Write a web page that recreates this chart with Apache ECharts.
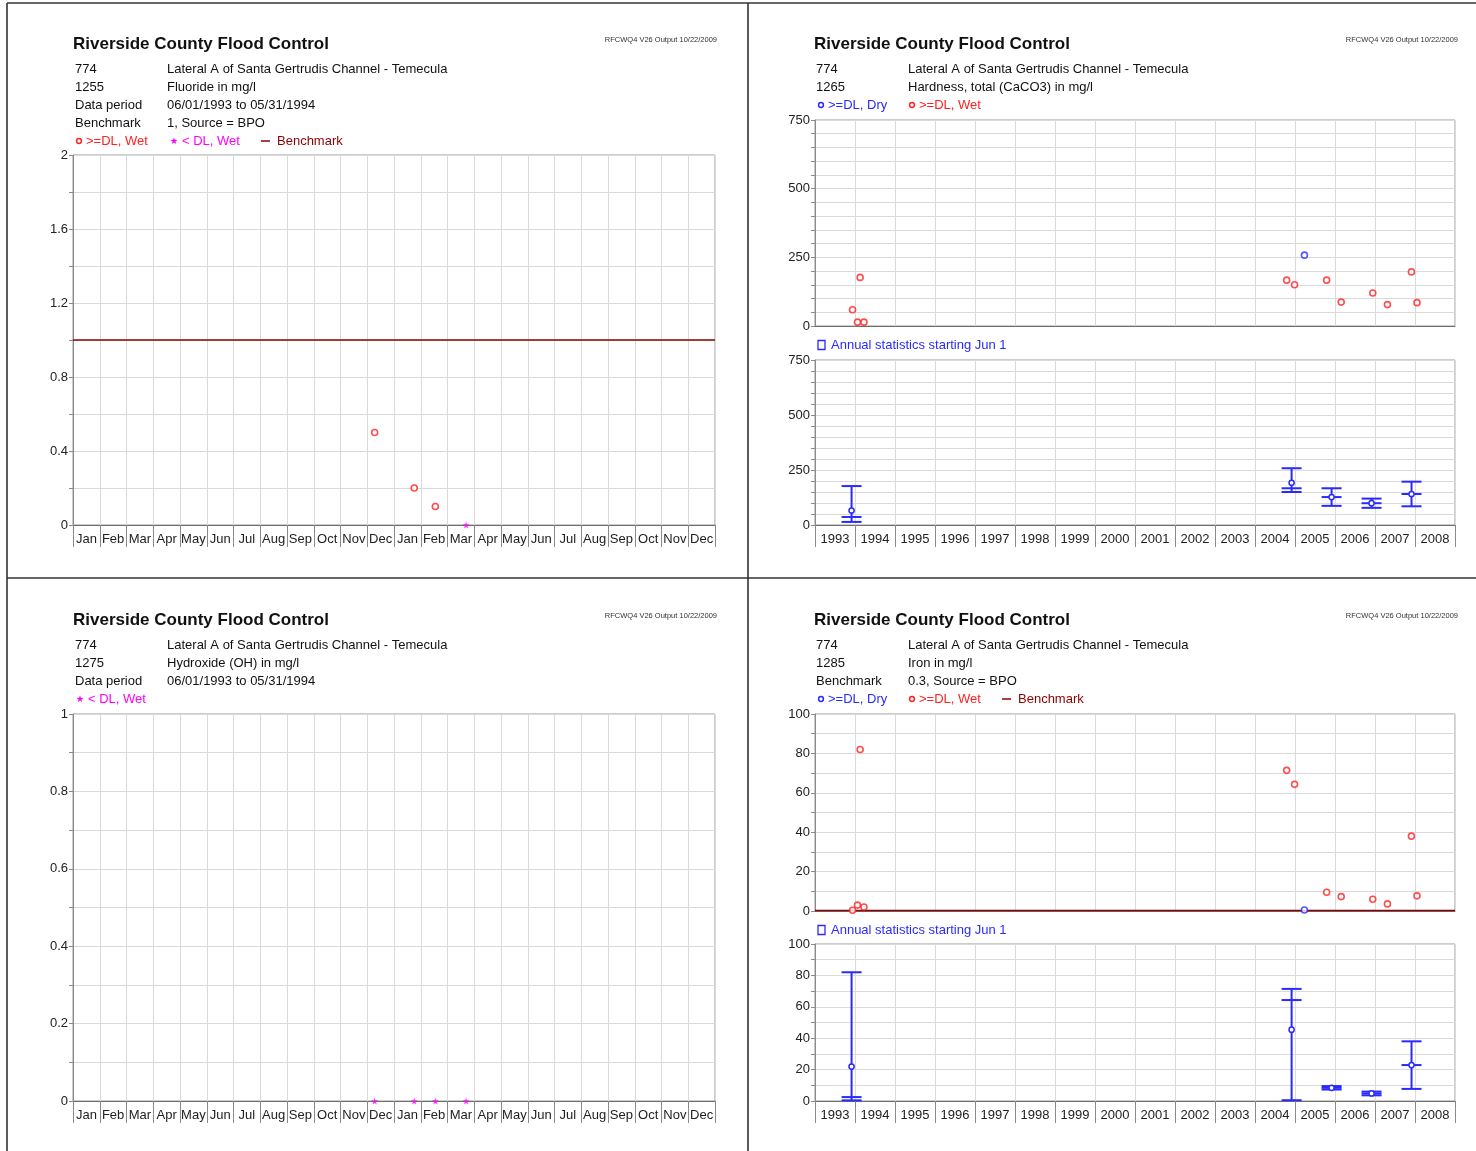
<!DOCTYPE html>
<html><head><meta charset="utf-8">
<script src="https://cdn.jsdelivr.net/npm/echarts@6/dist/echarts.min.js"></script>
<style>html,body{margin:0;padding:0;background:#fff}#c{width:1476px;height:1151px}</style>
</head><body><div id="c"></div>
<script>
// ---------- tick labels ----------
const monthNames = ['Jan','Feb','Mar','Apr','May','Jun','Jul','Aug','Sep','Oct','Nov','Dec'];
const monthLabels = monthNames.concat(monthNames);           // 1993 + 1994
const yearLabels = ['1993','1994','1995','1996','1997','1998','1999','2000','2001','2002','2003','2004','2005','2006','2007','2008'];

// ---------- Panel 1 : Fluoride (1255) ----------
const fluorideWetDates = ['1993-12-10','1994-01-24','1994-02-17'];
const fluorideWetValues = [0.5, 0.2, 0.1];
const fluorideNdDates = ['1994-03-24'];
const fluorideNdValues = [0];
const fluorideBenchmark = 1;

// ---------- Panel 3 : Hydroxide (1275) ----------
const hydroxideNdDates = ['1993-12-10','1994-01-24','1994-02-17','1994-03-24'];
const hydroxideNdValues = [0, 0, 0, 0];

// ---------- Panels 2 & 4 : sampling events ----------
const wetDates = ['1993-12-10','1994-01-24','1994-02-17','1994-03-24','2004-10-17','2004-12-28','2005-10-17','2006-02-27','2006-12-12','2007-04-25','2007-11-30','2008-01-20'];
const dryDates = ['2005-03-28'];

// Hardness (1265)
const hardnessWet = [59, 14, 177, 14, 167, 150, 167, 87, 120, 78, 197, 85];
const hardnessDry = [258];
// Iron (1285)
const ironWet = [0.4, 3, 82, 2, 71.4, 64.3, 9.5, 7.3, 6, 3.6, 38, 7.7];
const ironDry = [0.5];
const ironBenchmark = 0.3;

// Annual statistics (water year starting Jun 1, drawn mid-year)
const statDates = ['1993-12-01','2004-12-01','2005-12-01','2006-12-01','2007-12-01'];
const hardnessStatMin = [14, 150, 87, 78, 85];
const hardnessStatMax = [177, 258, 167, 120, 197];
const hardnessStatMedian = [36.5, 167, 127, 99, 141];
const hardnessStatMean = [66, 192, 127, 99, 141];
const ironStatMin = [0.4, 0.5, 7.3, 3.6, 7.7];
const ironStatMax = [82, 71.4, 9.5, 6, 38];
const ironStatMedian = [2.5, 64.3, 8.4, 4.8, 22.9];
const ironStatMean = [21.9, 45.4, 8.4, 4.8, 22.9];

// ---------- styling ----------
const FF = '"Liberation Sans", Arial, sans-serif';
const RED = '#ff2020', BLUE = '#2a2aff', MAG = '#ff00ff', DKRED = '#8b0000';
const STAR = 'path://M50 0L61 35L98 35L68 57L79 91L50 70L21 91L32 57L2 35L39 35Z';

const grids = [
  {left: 73,  top: 155, width: 642, height: 370},  // 0 fluoride
  {left: 815, top: 120, width: 640, height: 206},  // 1 hardness samples
  {left: 815, top: 360, width: 640, height: 165},  // 2 hardness stats
  {left: 73,  top: 714, width: 642, height: 387},  // 3 hydroxide
  {left: 815, top: 714, width: 640, height: 197},  // 4 iron samples
  {left: 815, top: 944, width: 640, height: 157}   // 5 iron stats
].map(g => Object.assign(g, {show: true, borderColor: '#9a9a9a', borderWidth: 1, backgroundColor: 'transparent'}));

function catAxis(gi, labels, showLabels) {
  return {type: 'category', gridIndex: gi, data: labels, boundaryGap: true, position: 'bottom',
    axisLine: {show: true, lineStyle: {color: '#6f6f6f', width: 1}},
    axisTick: {show: showLabels, length: 22, interval: 0, lineStyle: {color: '#8a8a8a'}},
    axisLabel: {show: showLabels, interval: 0, fontSize: 13, color: '#222', margin: 8, fontFamily: FF},
    splitLine: {show: true, interval: 0, lineStyle: {color: '#dadada'}}};
}
function timeAxis(gi, min, max) {
  return {type: 'time', gridIndex: gi, min: min, max: max, show: false};
}
function valAxis(gi, max, interval, labelEvery) {
  return {type: 'value', gridIndex: gi, min: 0, max: max, interval: interval,
    axisLine: {show: true, lineStyle: {color: '#8a8a8a'}},
    axisTick: {show: true, length: 4, lineStyle: {color: '#8a8a8a'}},
    splitLine: {show: true, lineStyle: {color: '#dadada'}},
    axisLabel: {fontSize: 13, color: '#222', margin: 5, fontFamily: FF,
      formatter: v => {
        const k = v / labelEvery;
        return Math.abs(k - Math.round(k)) < 1e-6 ? String(Math.round(v * 100) / 100) : '';
      }}};
}

const xAxes = [
  catAxis(0, monthLabels, true), timeAxis(0, '1993-01-01', '1995-01-01'),
  catAxis(1, yearLabels, false), timeAxis(1, '1993-01-01', '2009-01-01'),
  catAxis(2, yearLabels, true),  timeAxis(2, '1993-01-01', '2009-01-01'),
  catAxis(3, monthLabels, true), timeAxis(3, '1993-01-01', '1995-01-01'),
  catAxis(4, yearLabels, false), timeAxis(4, '1993-01-01', '2009-01-01'),
  catAxis(5, yearLabels, true),  timeAxis(5, '1993-01-01', '2009-01-01')
];
const yAxes = [
  valAxis(0, 2, 0.2, 0.4),
  valAxis(1, 750, 50, 250),
  valAxis(2, 750, 50, 250),
  valAxis(3, 1, 0.1, 0.2),
  valAxis(4, 100, 10, 20),
  valAxis(5, 100, 10, 20)
];

function pts(dates, vals) { return dates.map((d, i) => [d, vals[i]]); }
function ring(gi, dates, vals, color) {
  return {type: 'scatter', xAxisIndex: gi * 2 + 1, yAxisIndex: gi, data: pts(dates, vals),
    symbol: 'circle', symbolSize: 6, clip: false, silent: true, z: 6,
    itemStyle: {color: '#fff', borderColor: color, borderWidth: 1.6}};
}
function star(gi, dates, vals) {
  return {type: 'scatter', xAxisIndex: gi * 2 + 1, yAxisIndex: gi, data: pts(dates, vals),
    symbol: STAR, symbolSize: 7, clip: false, silent: true, z: 6, itemStyle: {color: MAG}};
}
function bench(gi, value, start, end) {
  return {type: 'line', xAxisIndex: gi * 2 + 1, yAxisIndex: gi, data: [[start, value], [end, value]],
    symbol: 'none', silent: true, z: 4, lineStyle: {color: DKRED, width: 1.5}};
}
function stats(gi, dates, mins, maxs, meds, means) {
  return {type: 'custom', xAxisIndex: gi * 2 + 1, yAxisIndex: gi, clip: false, silent: true, z: 6,
    data: dates.map((d, i) => [d, mins[i], maxs[i], meds[i], means[i]]),
    encode: {x: 0, y: [1, 2]},
    renderItem: function (params, api) {
      const t = api.value(0);
      const x = api.coord([t, api.value(1)])[0];
      const yMin = api.coord([t, api.value(1)])[1];
      const yMax = api.coord([t, api.value(2)])[1];
      const yMed = api.coord([t, api.value(3)])[1];
      const yMean = api.coord([t, api.value(4)])[1];
      const hw = 10;
      const st = {stroke: BLUE, lineWidth: 2, fill: null};
      return {type: 'group', children: [
        {type: 'line', shape: {x1: x, y1: yMin, x2: x, y2: yMax}, style: st},
        {type: 'line', shape: {x1: x - hw, y1: yMax, x2: x + hw, y2: yMax}, style: st},
        {type: 'line', shape: {x1: x - hw, y1: yMin, x2: x + hw, y2: yMin}, style: st},
        {type: 'line', shape: {x1: x - hw, y1: yMed, x2: x + hw, y2: yMed}, style: st},
        {type: 'circle', shape: {cx: x, cy: yMean, r: 2.6}, style: {stroke: BLUE, lineWidth: 1.5, fill: '#fff'}}
      ]};
    }};
}

const series = [
  bench(0, fluorideBenchmark, '1993-01-01', '1995-01-01'),
  ring(0, fluorideWetDates, fluorideWetValues, RED),
  star(0, fluorideNdDates, fluorideNdValues),

  ring(1, wetDates, hardnessWet, RED),
  ring(1, dryDates, hardnessDry, BLUE),
  stats(2, statDates, hardnessStatMin, hardnessStatMax, hardnessStatMedian, hardnessStatMean),

  star(3, hydroxideNdDates, hydroxideNdValues),

  bench(4, ironBenchmark, '1993-01-01', '2009-01-01'),
  ring(4, wetDates, ironWet, RED),
  ring(4, dryDates, ironDry, BLUE),
  stats(5, statDates, ironStatMin, ironStatMax, ironStatMedian, ironStatMean)
];

// ---------- header / legend graphics ----------
const G = [];
function txt(x, y, text, opt) {
  opt = opt || {};
  G.push({type: 'text', x: x, y: y, silent: true, z: 10, style: {
    text: text, fill: opt.color || '#111',
    font: (opt.bold ? 'bold ' : '') + (opt.size || 13) + 'px ' + FF,
    align: opt.align || 'left', verticalAlign: 'middle',
    textAlign: opt.align || 'left', textVerticalAlign: 'middle'}});
}
function legRing(x, y, color) {
  G.push({type: 'circle', silent: true, z: 10, shape: {cx: x, cy: y, r: 2.4}, style: {stroke: color, lineWidth: 1.5, fill: '#fff'}});
}
function legStar(x, y) {
  const p = [];
  for (let i = 0; i < 10; i++) {
    const r = i % 2 ? 1.5 : 3.6, a = -Math.PI / 2 + i * Math.PI / 5;
    p.push([x + r * Math.cos(a), y + r * Math.sin(a)]);
  }
  G.push({type: 'polygon', silent: true, z: 10, shape: {points: p}, style: {fill: MAG}});
}
function legDash(x, y) {
  G.push({type: 'line', silent: true, z: 10, shape: {x1: x, y1: y, x2: x + 9, y2: y}, style: {stroke: DKRED, lineWidth: 1.5}});
}
function legSquare(x, y) {
  G.push({type: 'rect', silent: true, z: 10, shape: {x: x, y: y - 4.5, width: 7, height: 9}, style: {stroke: BLUE, lineWidth: 1.3, fill: '#fff'}});
}
function header(x0, yT, rows) {
  txt(x0, yT, 'Riverside County Flood Control', {bold: true, size: 17});
  txt(x0 + 644, yT - 4, 'RFCWQ4 V26 Output 10/22/2009', {size: 7.5, align: 'right', color: '#333'});
  rows.forEach((r, i) => {
    txt(x0 + 2, yT + 25 + i * 18, r[0]);
    txt(x0 + 94, yT + 25 + i * 18, r[1]);
  });
}

// Panel 1
header(73, 44, [['774', 'Lateral A of Santa Gertrudis Channel - Temecula'], ['1255', 'Fluoride in mg/l'],
  ['Data period', '06/01/1993 to 05/31/1994'], ['Benchmark', '1, Source = BPO']]);
legRing(79, 141, RED); txt(86, 141, '>=DL, Wet', {color: RED});
legStar(174, 141); txt(182, 141, '< DL, Wet', {color: MAG});
legDash(261, 141); txt(277, 141, 'Benchmark', {color: DKRED});

// Panel 2
header(814, 44, [['774', 'Lateral A of Santa Gertrudis Channel - Temecula'], ['1265', 'Hardness, total (CaCO3) in mg/l']]);
legRing(821, 105, BLUE); txt(828, 105, '>=DL, Dry', {color: BLUE});
legRing(912, 105, RED); txt(919, 105, '>=DL, Wet', {color: RED});
legSquare(818, 345); txt(831, 345, 'Annual statistics starting Jun 1', {color: BLUE});

// Panel 3
header(73, 620, [['774', 'Lateral A of Santa Gertrudis Channel - Temecula'], ['1275', 'Hydroxide (OH) in mg/l'],
  ['Data period', '06/01/1993 to 05/31/1994']]);
legStar(80, 699); txt(88, 699, '< DL, Wet', {color: MAG});

// Panel 4
header(814, 620, [['774', 'Lateral A of Santa Gertrudis Channel - Temecula'], ['1285', 'Iron in mg/l'],
  ['Benchmark', '0.3, Source = BPO']]);
legRing(821, 699, BLUE); txt(828, 699, '>=DL, Dry', {color: BLUE});
legRing(912, 699, RED); txt(919, 699, '>=DL, Wet', {color: RED});
legDash(1002, 699); txt(1018, 699, 'Benchmark', {color: DKRED});
legSquare(818, 930); txt(831, 930, 'Annual statistics starting Jun 1', {color: BLUE});

// page frame lines
[[7, 3, 1476, 3], [7, 3, 7, 1151], [748, 3, 748, 1151], [7, 578, 1476, 578]].forEach(l => {
  G.push({type: 'line', silent: true, z: 10, shape: {x1: l[0], y1: l[1], x2: l[2], y2: l[3]}, style: {stroke: '#333', lineWidth: 1.6}});
});

const chart = echarts.init(document.getElementById('c'), null, {renderer: 'canvas'});
chart.setOption({
  animation: false,
  backgroundColor: '#fff',
  textStyle: {fontFamily: FF},
  grid: grids,
  xAxis: xAxes,
  yAxis: yAxes,
  series: series,
  graphic: G
});
</script>
</body></html>
